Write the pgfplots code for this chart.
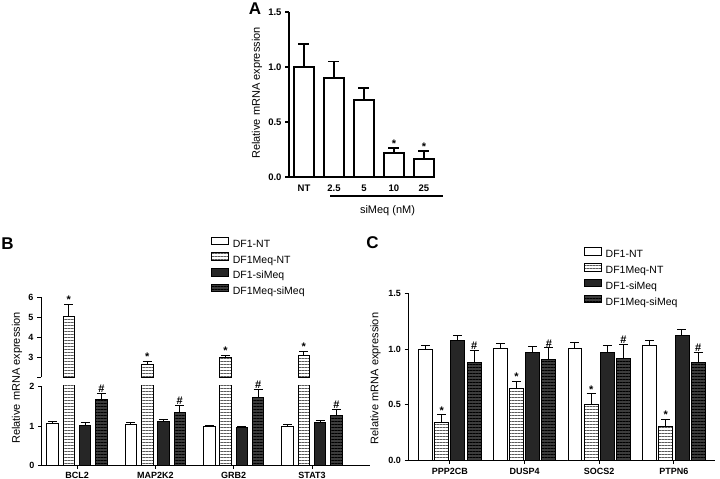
\documentclass[border=0pt]{standalone}
\usepackage{fontspec}
\setmainfont{Liberation Sans}
\usepackage{pgfplots}
\pgfplotsset{compat=1.18}
\usetikzlibrary{patterns.meta}
\definecolor{darkbar}{HTML}{262626}
\definecolor{darkhatch}{HTML}{3C3C3C}
\definecolor{hatchgray}{HTML}{5A5A5A}
\newcommand{\fs}[1]{\fontsize{#1}{#1}\selectfont}

\pgfplotsset{
  gp/.style={
    scale only axis,
    axis x line*=bottom, axis y line*=left,
    axis line style={-, line width=1pt, black},
    tick align=outside,
    major tick length=4pt,
    every tick/.style={black, line width=1pt},
    /pgf/number format/assume math mode=true,
    ticklabel style={font=\bfseries\fs{9}},
    enlargelimits=false,
    ybar,
    legend image code/.code={\draw[##1, line width=0.8pt] (0pt,0pt) rectangle (17pt,7.5pt);},
  },
  eb/.style={
    /pgfplots/error bars/y dir=plus,
    /pgfplots/error bars/y explicit,
    /pgfplots/error bars/error mark=-,
    /pgfplots/error bars/error bar style={line width=#1, black, solid},
    /pgfplots/error bars/error mark options={rotate=90, line width=#1, black, mark size=4.5pt},
  },
  s1/.style={draw=black, fill=white, line width=0.9pt},
  s2/.style={draw=black, line width=0.9pt, pattern={Lines[angle=0,distance=3pt,line width=1pt]}, pattern color=hatchgray},
  s3/.style={draw=black, fill=darkbar, line width=0.9pt},
  s4/.style={draw=black, fill=darkhatch, line width=0.9pt, postaction={pattern={Lines[angle=0,distance=3pt,line width=1pt]}, pattern color=black}},
  ann/.style={forget plot, draw=none, fill=none, nodes near coords={#1},
    nodes near coords style={font=\bfseries\fs{11}, anchor=south, inner sep=0.5pt, black}},
  lg/.style={legend style={draw=none, fill=none, at={(axis description cs:#1)}, anchor=north west,
    inner sep=0pt, outer sep=0pt, row sep=1.6pt, column sep=3pt, font=\fs{10.5},
    nodes={inner sep=1pt, text height=8pt, text depth=2.5pt}},
    legend cell align=left},
}

\begin{document}
\begin{tikzpicture}[x=1pt,y=1pt]
\path[use as bounding box] (0pt,0pt) rectangle (720pt,479pt);

% ---------------- Panel A ----------------
\begin{axis}[gp,
  at={(289pt,302pt)}, anchor=south west,
  width=146pt, height=165pt,
  xmin=-0.5, xmax=4.37, ymin=0, ymax=1.5,
  bar width=0.667,
  xtick={0,1,2,3,4}, xticklabels={NT,2.5,5,10,25},
  ytick={0,0.5,1,1.5},
  yticklabel style={/pgf/number format/.cd, fixed, fixed zerofill, precision=1},
  ticklabel style={font=\bfseries\fs{9.5}},
  major tick length=4pt,
  x tick style={draw=none},
  axis line style={line width=1.4pt},
  every tick/.style={black, line width=1.4pt},
]
\addplot[draw=black, fill=white, line width=1.8pt, bar shift=0, eb=1.6pt,
  /pgfplots/error bars/error mark options={rotate=90, line width=1.6pt, black, mark size=5.5pt}]
  coordinates {(0,1.0) +- (0,0.21) (1,0.90) +- (0,0.15) (2,0.70) +- (0,0.11) (3,0.215) +- (0,0.05) (4,0.16) +- (0,0.075)};
\addplot[ann={*}, bar shift=0] coordinates {(3,0.265) (4,0.235)};
\end{axis}

% ---------------- Panel B lower ----------------
\begin{axis}[gp,
  at={(41pt,13.3pt)}, anchor=south west,
  width=329pt, height=79.8pt,
  xmin=-0.46, xmax=3.74, ymin=0, ymax=2.02,
  bar width=0.147,
  xtick={0,1,2,3}, xticklabels={BCL2,MAP2K2,GRB2,STAT3},
  major tick length=3pt,
  xticklabel style={inner sep=0pt},
  xticklabel shift=3pt,
  ytick={0,1,2},
  lg={0.517,2.870},
]
\addplot[s1, bar shift=-0.312, eb=1pt] coordinates {(0,1.07) +- (0,0.06) (1,1.04) +- (0,0.06) (2,0.99) +- (0,0.03) (3,1.00) +- (0,0.04)};
\addplot[s2, bar shift=-0.104, eb=1pt] coordinates {(0,5.02) +- (0,0.62) (1,2.64) +- (0,0.16) (2,2.98) +- (0,0.13) (3,3.11) +- (0,0.17)};
\addplot[s3, bar shift=0.104, eb=1pt] coordinates {(0,1.03) +- (0,0.06) (1,1.12) +- (0,0.06) (2,0.97) +- (0,0.03) (3,1.09) +- (0,0.05)};
\addplot[s4, bar shift=0.312, eb=1pt] coordinates {(0,1.68) +- (0,0.16) (1,1.34) +- (0,0.18) (2,1.73) +- (0,0.21) (3,1.28) +- (0,0.14)};
\addplot[ann={\#}, bar shift=0.312] coordinates {(0,1.84) (1,1.52) (2,1.94) (3,1.42)};
\legend{DF1-NT,DF1Meq-NT,DF1-siMeq,DF1Meq-siMeq}
\end{axis}

% ---------------- Panel B upper ----------------
\begin{axis}[gp,
  at={(41pt,101.7pt)}, anchor=south west,
  width=329pt, height=80pt,
  xmin=-0.46, xmax=3.74, ymin=2, ymax=6,
  bar width=0.147,
  xtick=\empty, x axis line style={draw=none},
  ytick={2,3,4,5,6}, yticklabels={,3,4,5,6},
]
\addplot[s2, bar shift=-0.104, eb=1pt] coordinates {(0,5.02) +- (0,0.62) (1,2.64) +- (0,0.16) (2,2.98) +- (0,0.13) (3,3.11) +- (0,0.17)};
\addplot[ann={*}, bar shift=-0.104] coordinates {(0,5.66) (1,2.81) (2,3.12) (3,3.29)};
\end{axis}

% ---------------- Panel C ----------------
\begin{axis}[gp,
  at={(408pt,18.3pt)}, anchor=south west,
  width=307pt, height=167.4pt,
  xmin=-0.56, xmax=3.55, ymin=0, ymax=1.5,
  bar width=0.187,
  xtick={0,1,2,3}, xticklabels={PPP2CB,DUSP4,SOCS2,PTPN6},
  major tick length=3.5pt,
  ytick={0,0.5,1,1.5},
  yticklabel style={/pgf/number format/.cd, fixed, fixed zerofill, precision=1},
  lg={0.573,1.275},
]
\addplot[s1, bar shift=-0.325, eb=1pt] coordinates {(0,1.00) +- (0,0.03) (1,1.01) +- (0,0.04) (2,1.01) +- (0,0.05) (3,1.03) +- (0,0.05)};
\addplot[s2, bar shift=-0.108, eb=1pt] coordinates {(0,0.34) +- (0,0.07) (1,0.65) +- (0,0.06) (2,0.50) +- (0,0.10) (3,0.31) +- (0,0.06)};
\addplot[s3, bar shift=0.108, eb=1pt] coordinates {(0,1.08) +- (0,0.04) (1,0.97) +- (0,0.05) (2,0.97) +- (0,0.06) (3,1.12) +- (0,0.06)};
\addplot[s4, bar shift=0.325, eb=1pt] coordinates {(0,0.88) +- (0,0.11) (1,0.91) +- (0,0.10) (2,0.92) +- (0,0.12) (3,0.88) +- (0,0.09)};
\addplot[ann={*}, bar shift=-0.108] coordinates {(0,0.41) (1,0.71) (2,0.60) (3,0.37)};
\addplot[ann={\#}, bar shift=0.325] coordinates {(0,0.99) (1,1.01) (2,1.04) (3,0.97)};
\legend{DF1-NT,DF1Meq-NT,DF1-siMeq,DF1Meq-siMeq}
\end{axis}

% ---------------- Labels ----------------
\node[rotate=90, font=\fs{11}] at (257pt,386pt) {Relative mRNA expression};
\node[rotate=90, font=\fs{11}] at (17pt,101pt) {Relative mRNA expression};
\node[rotate=90, font=\fs{11}] at (375.5pt,100.5pt) {Relative mRNA expression};
\node[font=\bfseries\fs{17}] at (255pt,470.5pt) {A};
\node[font=\bfseries\fs{17}] at (7.5pt,235.5pt) {B};
\node[font=\bfseries\fs{17}] at (372.5pt,236.5pt) {C};
\draw[line width=1.5pt] (330pt,283pt) -- (443pt,283pt);
\node[font=\fs{11}] at (387.5pt,268pt) {siMeq (nM)};
\end{tikzpicture}
\end{document}
